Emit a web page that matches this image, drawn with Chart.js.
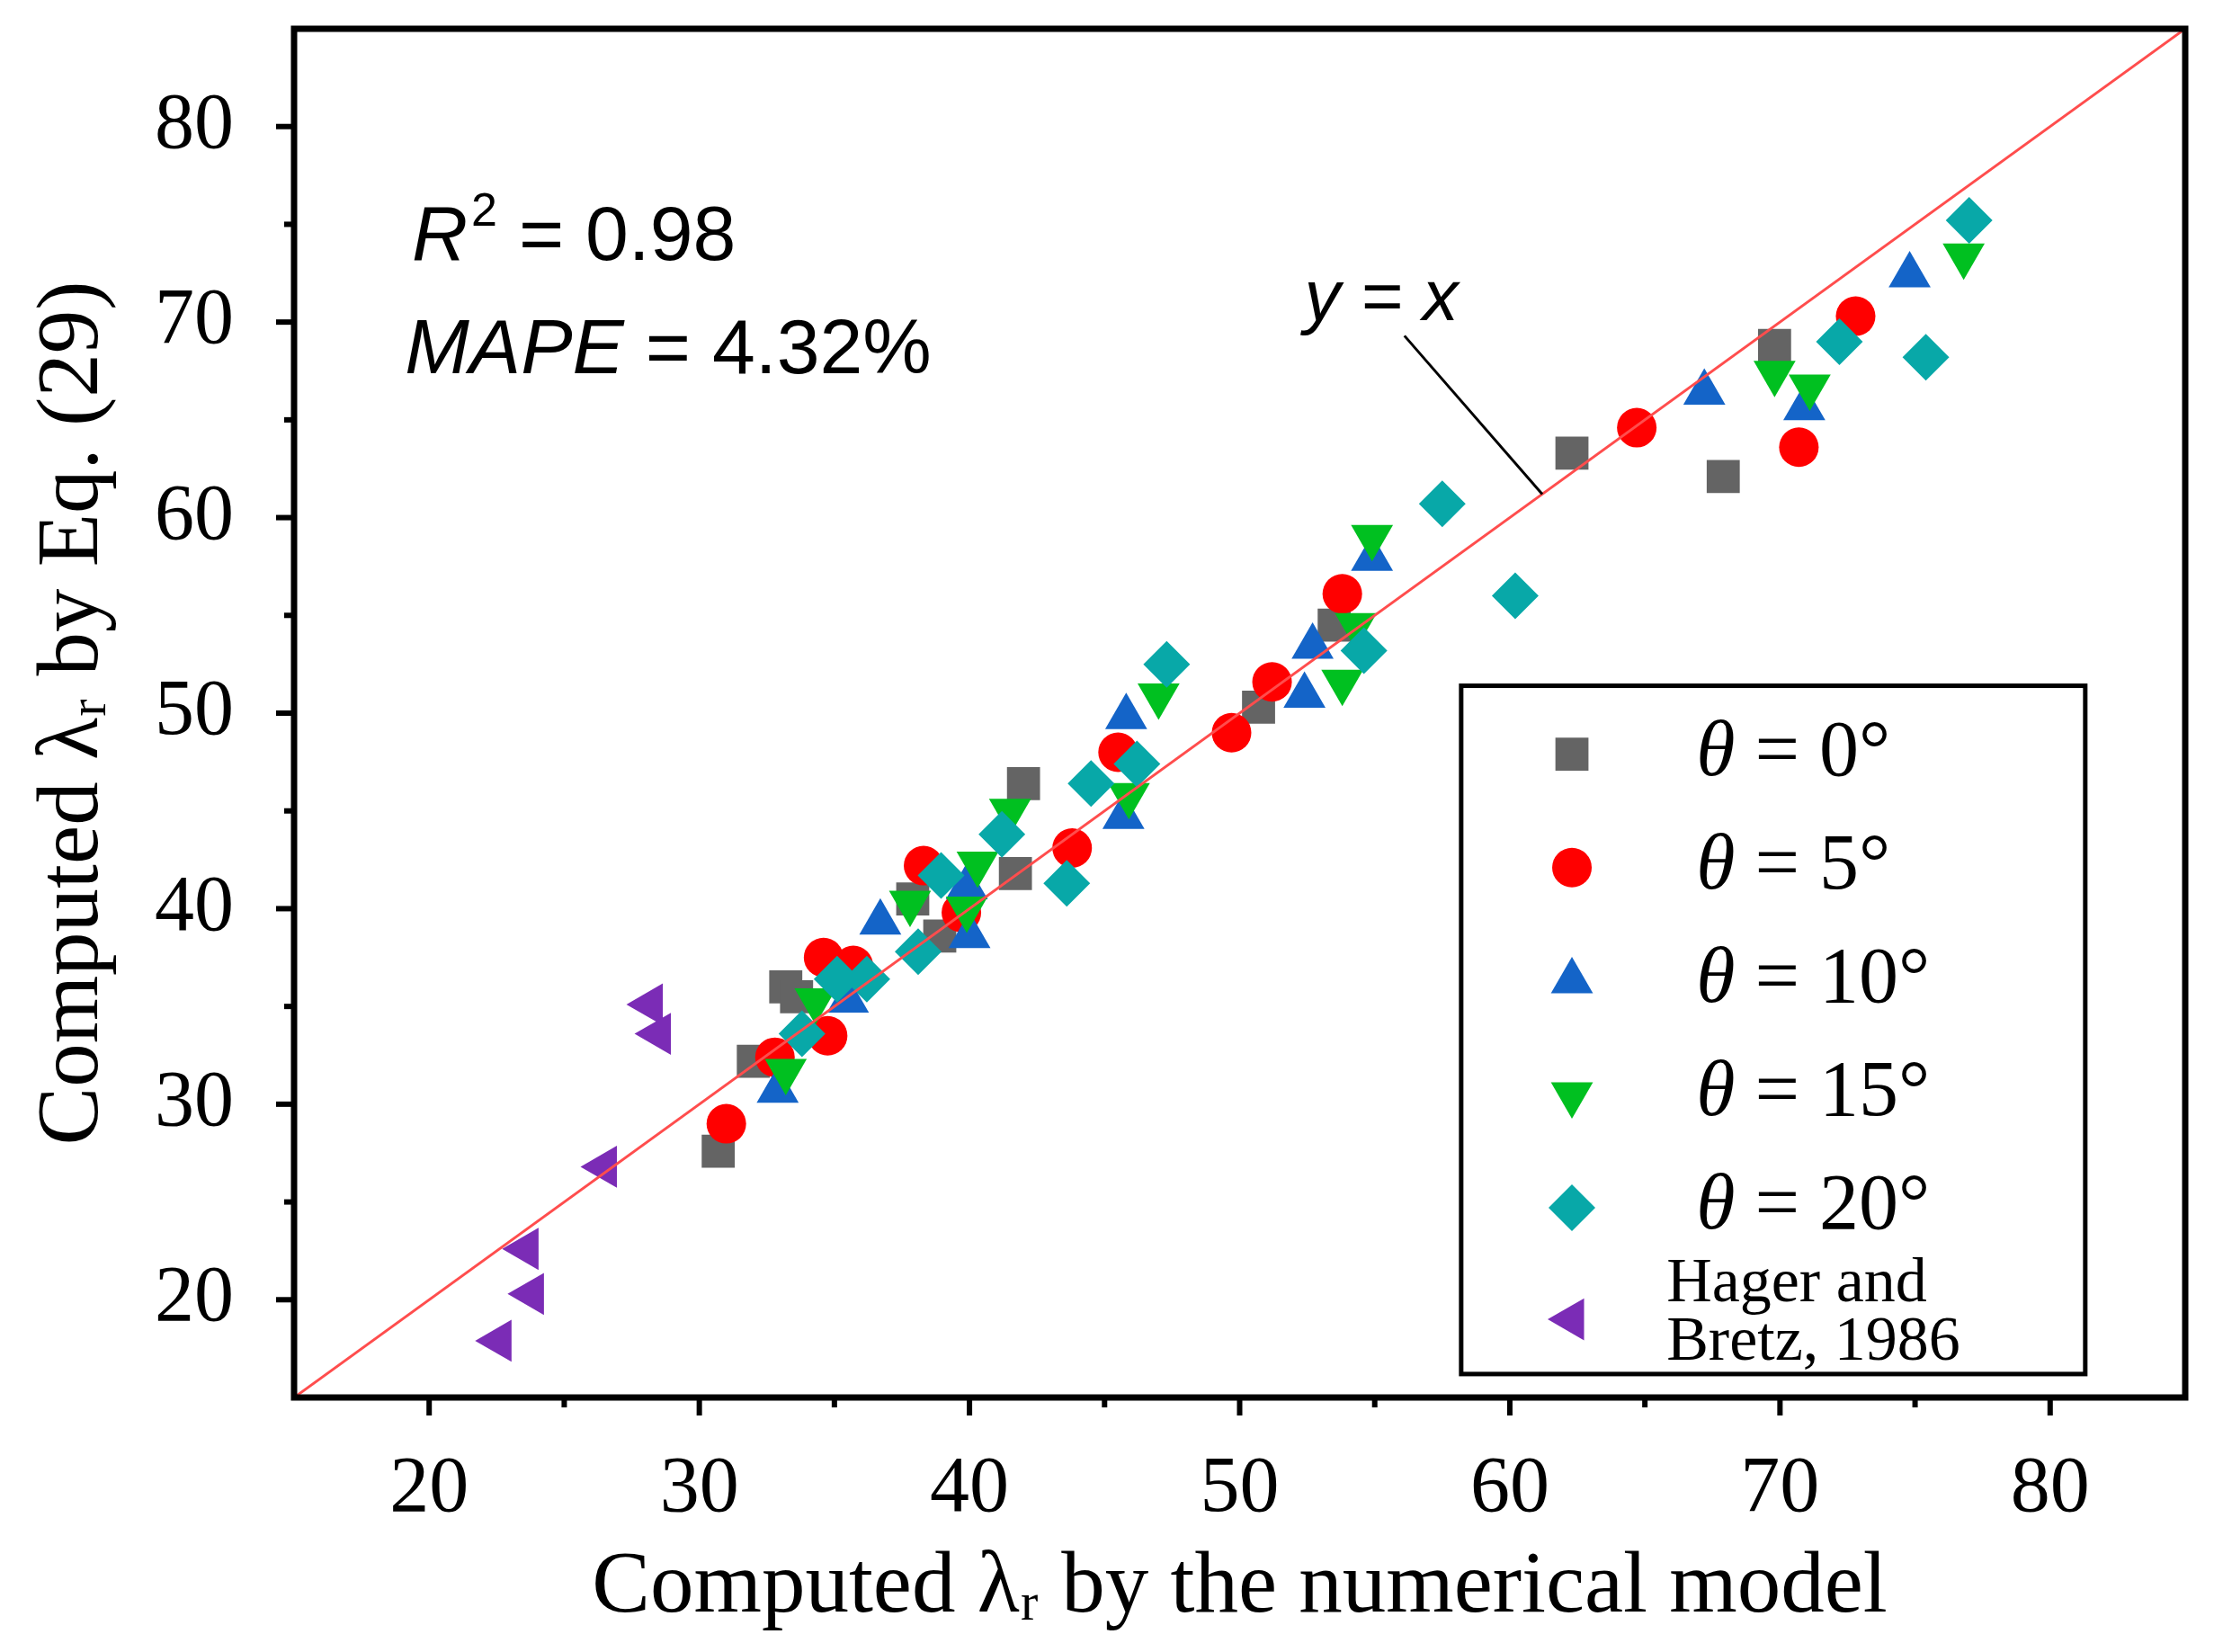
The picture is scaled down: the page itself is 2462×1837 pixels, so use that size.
<!DOCTYPE html>
<html>
<head>
<meta charset="utf-8">
<script src="https://cdn.jsdelivr.net/npm/chart.js@4.4.1/dist/chart.umd.min.js"></script>
<style>
  html, body { margin: 0; padding: 0; background: #fff; }
  canvas { display: block; }
</style>
</head>
<body>
<canvas id="myChart" width="2462" height="1837"></canvas>
<script>
// theta = 0 deg
var t0X = [30.7, 32.0, 33.2, 33.6, 38.9, 37.9, 41.7, 42.0, 50.7, 53.5, 62.3, 67.9, 69.8];
var t0Y = [27.6, 32.2, 36.0, 35.5, 38.6, 40.5, 41.8, 46.4, 50.3, 54.5, 63.3, 62.1, 68.8];
// theta = 5 deg
var t5X = [31.0, 32.8, 34.6, 34.75, 35.7, 38.3, 39.7, 43.8, 45.5, 49.7, 51.2, 53.8, 64.7, 70.7, 72.8];
var t5Y = [29.0, 32.4, 37.5, 33.5, 37.1, 42.2, 39.8, 43.1, 48.0, 49.0, 51.6, 56.1, 64.6, 63.6, 70.3];
// theta = 10 deg
var t10X = [32.9, 35.5, 36.7, 40.0, 39.9, 45.8, 45.7, 52.4, 52.7, 54.9, 67.2, 70.9, 74.8];
var t10Y = [30.7, 35.3, 39.3, 38.6, 41.1, 49.8, 44.7, 50.9, 53.4, 57.9, 66.4, 65.6, 72.4];
// theta = 15 deg
var t15X = [33.2, 34.3, 37.8, 39.9, 40.3, 41.5, 45.9, 47.0, 53.8, 54.3, 54.9, 69.8, 71.1, 76.8];
var t15Y = [31.7, 35.3, 40.3, 40.0, 42.3, 45.0, 45.8, 50.9, 51.6, 54.5, 59.0, 67.4, 66.7, 73.4];
// theta = 20 deg
var t20X = [33.8, 35.1, 36.2, 38.1, 38.95, 41.2, 43.6, 44.5, 46.2, 47.3, 54.6, 57.5, 60.2, 72.2, 75.4, 77.0];
var t20Y = [33.6, 36.4, 36.4, 37.8, 41.7, 43.8, 41.3, 46.4, 47.4, 52.5, 53.2, 60.7, 56.0, 69.0, 68.2, 75.2];
// Hager and Bretz, 1986
var hbX = [22.6, 23.8, 23.6, 26.5, 28.2, 28.5];
var hbY = [17.9, 20.3, 22.6, 26.8, 35.1, 33.6];

var seriesNames = ["θ = 0°", "θ = 5°", "θ = 10°", "θ = 15°", "θ = 20°", "Hager and Bretz, 1986"];
var seriesColors = ["#646464", "#FF0000", "#1464C8", "#00C020", "#08A8A8", "#7B2CB6"];
var xTicks = [20, 30, 40, 50, 60, 70, 80];
var yTicks = [20, 30, 40, 50, 60, 70, 80];

function pts(xs, ys) {
  return xs.map(function (x, i) { return { x: x, y: ys[i] }; });
}

// marker shape per series
var markers = [
  { style: "rect", rot: 0, r: 26 },
  { style: "circle", rot: 0, r: 22 },
  { style: "triangle", rot: 0, r: 27 },
  { style: "triangle", rot: 180, r: 27 },
  { style: "rectRot", rot: 0, r: 26 },
  { style: "triangle", rot: 270, r: 27 }
];
var seriesData = [pts(t0X, t0Y), pts(t5X, t5Y), pts(t10X, t10Y), pts(t15X, t15Y), pts(t20X, t20Y), pts(hbX, hbY)];

var datasets = seriesData.map(function (d, i) {
  return {
    label: seriesNames[i],
    data: d,
    pointStyle: markers[i].style,
    rotation: markers[i].rot,
    pointRadius: markers[i].r,
    pointBorderWidth: 0,
    backgroundColor: seriesColors[i],
    borderColor: seriesColors[i],
    order: 6 - i
  };
});
datasets.push({
  label: "y = x",
  data: [{ x: 15, y: 15 }, { x: 85, y: 85 }],
  showLine: true,
  pointRadius: 0,
  borderColor: "#FF4D4D",
  borderWidth: 3,
  order: 0
});

function drawMarker(ctx, m, x, y, color) {
  ctx.save();
  ctx.fillStyle = color;
  ctx.translate(x, y);
  ctx.rotate(m.rot * Math.PI / 180);
  ctx.beginPath();
  if (m.style === "rect") {
    var s = m.r * Math.SQRT1_2;
    ctx.rect(-s, -s, 2 * s, 2 * s);
  } else if (m.style === "circle") {
    ctx.arc(0, 0, m.r, 0, Math.PI * 2);
  } else if (m.style === "rectRot") {
    ctx.moveTo(-m.r, 0); ctx.lineTo(0, -m.r); ctx.lineTo(m.r, 0); ctx.lineTo(0, m.r);
  } else {
    for (var k = 0; k < 3; k++) {
      var a = k * 2 * Math.PI / 3;
      ctx[k ? "lineTo" : "moveTo"](Math.sin(a) * m.r, -Math.cos(a) * m.r);
    }
  }
  ctx.closePath();
  ctx.fill();
  ctx.restore();
}

var decor = {
  id: "decor",
  afterDraw: function (chart) {
    var ctx = chart.ctx, a = chart.chartArea;
    var sx = chart.scales.x, sy = chart.scales.y;
    var X = function (v) { return sx.getPixelForValue(v); };
    var Y = function (v) { return sy.getPixelForValue(v); };
    ctx.save();
    // frame
    ctx.strokeStyle = "#000";
    ctx.lineWidth = 7;
    ctx.strokeRect(a.left, a.top, a.right - a.left, a.bottom - a.top);
    // ticks (major at 10s, minor at 5s)
    ctx.lineWidth = 6;
    sx.ticks.forEach(function (t) {
      if (t.value <= 15 || t.value >= 85) return;
      var len = t.value % 10 === 0 ? 20 : 11;
      var px = X(t.value);
      ctx.beginPath(); ctx.moveTo(px, a.bottom); ctx.lineTo(px, a.bottom + len); ctx.stroke();
    });
    sy.ticks.forEach(function (t) {
      if (t.value <= 15 || t.value >= 85) return;
      var len = t.value % 10 === 0 ? 20 : 11;
      var py = Y(t.value);
      ctx.beginPath(); ctx.moveTo(a.left, py); ctx.lineTo(a.left - len, py); ctx.stroke();
    });

    // stats text
    ctx.fillStyle = "#000";
    ctx.textBaseline = "alphabetic";
    ctx.textAlign = "left";
    var x0 = X(19.36), b0 = Y(73.2);
    ctx.font = "italic 86px 'Liberation Sans', Arial, sans-serif";
    ctx.fillText("R", x0, b0);
    var w = ctx.measureText("R").width;
    ctx.font = "52px 'Liberation Sans', Arial, sans-serif";
    ctx.fillText("2", x0 + w + 4, b0 - 38);
    w += ctx.measureText("2").width + 4;
    ctx.font = "86px 'Liberation Sans', Arial, sans-serif";
    ctx.fillText(" = 0.98", x0 + w, b0);

    var x1 = X(19.1), b1 = Y(67.4);
    ctx.font = "italic 86px 'Liberation Sans', Arial, sans-serif";
    ctx.fillText("MAPE", x1, b1);
    w = ctx.measureText("MAPE").width;
    ctx.font = "86px 'Liberation Sans', Arial, sans-serif";
    ctx.fillText(" = 4.32%", x1 + w, b1);

    // y = x label with leader
    ctx.font = "italic 80px 'Liberation Sans', Arial, sans-serif";
    ctx.fillText("y = x", X(52.4), Y(70.1));
    ctx.lineWidth = 3;
    ctx.beginPath(); ctx.moveTo(X(56.1), Y(69.3)); ctx.lineTo(X(61.2), Y(61.2)); ctx.stroke();

    // legend box
    var lx0 = X(58.2), lx1 = X(81.3), ly0 = Y(51.4), ly1 = Y(16.2);
    ctx.fillStyle = "#fff";
    ctx.fillRect(lx0, ly0, lx1 - lx0, ly1 - ly0);
    ctx.strokeStyle = "#000";
    ctx.lineWidth = 5;
    ctx.strokeRect(lx0, ly0, lx1 - lx0, ly1 - ly0);
    var rows = [47.9, 42.1, 36.3, 30.5, 24.7, 19.0];
    var mx = X(62.3), tx = X(66.9);
    rows.forEach(function (ry, i) {
      var py = Y(ry);
      drawMarker(ctx, markers[i], mx, py, seriesColors[i]);
      ctx.fillStyle = "#000";
      ctx.textBaseline = "middle";
      if (i < 5) {
        ctx.font = "italic 88px 'Liberation Serif', 'Times New Roman', serif";
        ctx.fillText("θ", tx, py);
        var tw = ctx.measureText("θ").width;
        ctx.font = "88px 'Liberation Serif', 'Times New Roman', serif";
        ctx.fillText(seriesNames[i].slice(1), tx + tw, py);
      } else {
        ctx.font = "70px 'Liberation Serif', 'Times New Roman', serif";
        ctx.textBaseline = "alphabetic";
        ctx.fillText("Hager and", X(65.8), Y(19.9));
        ctx.fillText("Bretz, 1986", X(65.8), Y(16.95));
      }
    });
    ctx.restore();
  }
};

var serif = "'Liberation Serif', 'Times New Roman', serif";

new Chart("myChart", {
  type: "scatter",
  data: { datasets: datasets },
  options: {
    responsive: false,
    animation: false,
    devicePixelRatio: 1,
    layout: { padding: { top: 32, right: 32, left: 0, bottom: 0 } },
    plugins: { legend: { display: false }, tooltip: { enabled: false } },
    scales: {
      x: {
        type: "linear",
        min: 15,
        max: 85,
        afterFit: function (s) { s.height = 283; s.paddingLeft = 0; s.paddingRight = 0; },
        grid: { display: false, drawTicks: false },
        border: { display: false },
        ticks: {
          stepSize: 5,
          autoSkip: false,
          maxRotation: 0,
          padding: 50,
          color: "#000",
          font: { family: serif, size: 88 },
          callback: function (v) { return xTicks.indexOf(v) >= 0 ? String(v) : ""; }
        },
        title: {
          display: true,
          text: "Computed λᵣ by the numerical model",
          color: "#000",
          font: { family: serif, size: 97 },
          padding: { top: 0, bottom: 12 }
        }
      },
      y: {
        type: "linear",
        min: 15,
        max: 85,
        afterFit: function (s) { s.width = 327; s.paddingTop = 0; s.paddingBottom = 0; },
        grid: { display: false, drawTicks: false },
        border: { display: false },
        ticks: {
          stepSize: 5,
          autoSkip: false,
          padding: 67,
          color: "#000",
          font: { family: serif, size: 88 },
          callback: function (v) { return yTicks.indexOf(v) >= 0 ? String(v) : ""; }
        },
        title: {
          display: true,
          text: "Computed λᵣ by Eq. (29)",
          color: "#000",
          font: { family: serif, size: 97 },
          padding: { top: 24, bottom: 0 }
        }
      }
    }
  },
  plugins: [decor]
});
</script>
</body>
</html>
